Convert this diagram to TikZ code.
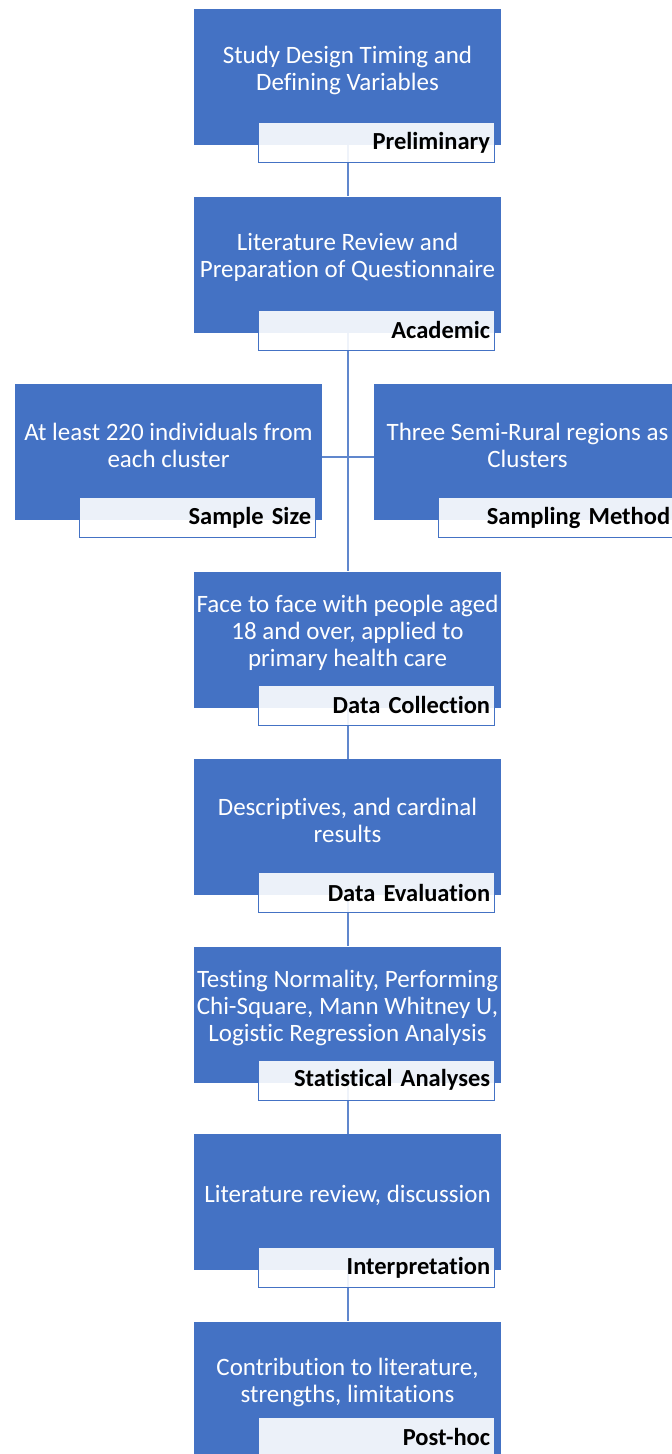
\documentclass[tikz,border=0pt]{standalone}
\usepackage{fontspec}
\setmainfont{Carlito}[Ligatures={NoCommon}]
\definecolor{boxblue}{RGB}{68,114,196}
\begin{document}
\begin{tikzpicture}[x=1pt,y=-1pt]

\tikzset{
  stage/.style={fill=boxblue, minimum width=307pt, minimum height=136pt, inner sep=0pt},
  stagetext/.style={text=white, align=center, font=\fontsize{25}{27}\selectfont},
  tag/.style={draw=boxblue, line width=1.2pt, fill=white, fill opacity=0.9, text opacity=1,
    minimum width=236pt, minimum height=40pt, text width=228pt, align=right, inner xsep=4pt,
    font=\bfseries\fontsize{24.5}{26}\selectfont, anchor=north east},
  link/.style={draw=boxblue!85!white, line width=2pt}
}

\useasboundingbox (0,0) rectangle (672,1454);
\clip (0,0) rectangle (672,1454);

%% Boxes
\node[stage] (design) at (347.5,77) {};
\node[stage] (review) at (347.5,264.5) {};
\node[stage] (size) at (168.5,452) {};
\node[stage] (method) at (527.5,452) {};
\node[stage] (collection) at (347.5,639.5) {};
\node[stage] (evaluation) at (347.5,827) {};
\node[stage] (analyses) at (347.5,1014.5) {};
\node[stage] (interpretation) at (347.5,1202) {};
\node[stage] (posthoc) at (347.5,1389.5) {};

%% Links
\draw[link] (design.south) -- (review.north);
\draw[link] (review.south) -- (collection.north);
\draw[link] ([yshift=-5pt]size.east) -- ([yshift=-5pt]method.west);
\draw[link] (collection.south) -- (evaluation.north);
\draw[link] (evaluation.south) -- (analyses.north);
\draw[link] (analyses.south) -- (interpretation.north);
\draw[link] (interpretation.south) -- (posthoc.north);

%% Texts
\node[stagetext] (designtext) at ([yshift=7pt]design.center) {Study Design Timing and\\Defining Variables};
\node[stagetext] (reviewtext) at ([yshift=7pt]review.center) {Literature Review and\\Preparation of Questionnaire};
\node[stagetext] (sizetext) at ([yshift=7pt]size.center) {At least 220 individuals from\\each cluster};
\node[stagetext] (methodtext) at ([yshift=7pt]method.center) {Three Semi-Rural regions as\\Clusters};
\node[stagetext] (collectiontext) at ([yshift=7pt]collection.center) {Face to face with people aged\\18 and over, applied to\\primary health care};
\node[stagetext] (evaluationtext) at ([yshift=7pt]evaluation.center) {Descriptives, and cardinal\\results};
\node[stagetext] (analysestext) at ([yshift=7pt]analyses.center) {Testing Normality, Performing\\Chi-Square, Mann Whitney U,\\Logistic Regression Analysis};
\node[stagetext] (interpretationtext) at ([yshift=7pt]interpretation.center) {Literature review, discussion};
\node[stagetext] (posthoctext) at ([yshift=7pt]posthoc.center) {Contribution to literature,\\strengths, limitations};

%% Tags
\node[tag] (designtag) at ([xshift=-6.5pt,yshift=23pt]design.south east) {Preliminary};
\node[tag] (reviewtag) at ([xshift=-6.5pt,yshift=23pt]review.south east) {Academic};
\node[tag] (sizetag) at ([xshift=-6.5pt,yshift=23pt]size.south east) {Sample Size};
\node[tag] (methodtag) at ([xshift=-6.5pt,yshift=23pt]method.south east) {Sampling Method};
\node[tag] (collectiontag) at ([xshift=-6.5pt,yshift=23pt]collection.south east) {Data Collection};
\node[tag] (evaluationtag) at ([xshift=-6.5pt,yshift=23pt]evaluation.south east) {Data Evaluation};
\node[tag] (analysestag) at ([xshift=-6.5pt,yshift=23pt]analyses.south east) {Statistical Analyses};
\node[tag] (interpretationtag) at ([xshift=-6.5pt,yshift=23pt]interpretation.south east) {Interpretation};
\node[tag] (posthoctag) at ([xshift=-6.5pt,yshift=-95pt]posthoc.north east) {Post-hoc};

\end{tikzpicture}
\end{document}
